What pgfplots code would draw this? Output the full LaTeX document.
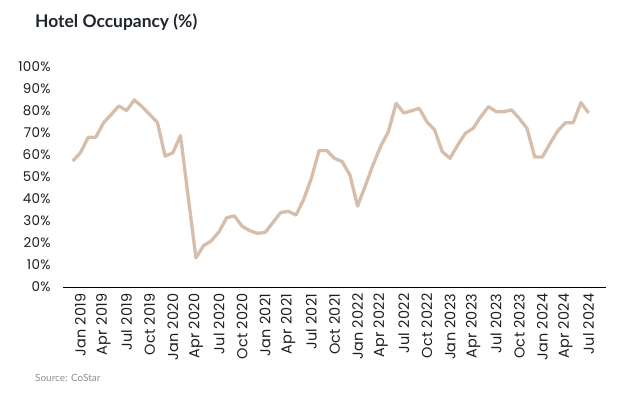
\documentclass[border=0pt]{standalone}
\usepackage{fontspec}
\setmainfont{Poppins}
\newfontfamily\titlefont{Lato}
\newfontfamily\tickfont{Poppins}[LetterSpace=2]
\usepackage{pgfplots}
\usepackage{pgfplotstable}
\pgfplotsset{compat=1.18}
\definecolor{linec}{RGB}{214,190,170}
\definecolor{txt}{RGB}{30,30,30}
\definecolor{ttl}{RGB}{31,35,45}
\definecolor{src}{RGB}{140,140,140}
\pgfplotstableread{
i  occ
0  57.2
1  61.0
2  68.0
3  68.1
4  74.6
5  78.4
6  82.3
7  80.2
8  85.0
9  82.0
10 78.4
11 74.8
12 59.5
13 61.0
14 68.8
15 41.0
16 13.3
17 18.8
18 21.0
19 25.1
20 31.5
21 32.3
22 27.6
23 25.6
24 24.4
25 24.8
26 29.3
27 33.8
28 34.4
29 32.7
30 39.8
31 49.5
32 62.0
33 62.0
34 58.5
35 57.0
36 50.9
37 36.8
38 46.0
39 55.5
40 64.0
41 70.6
42 83.5
43 79.1
44 80.1
45 81.2
46 75.1
47 71.4
48 61.5
49 58.5
50 64.5
51 69.9
52 72.1
53 77.4
54 82.0
55 79.7
56 79.7
57 80.5
58 76.6
59 72.1
60 59.1
61 59.1
62 65.3
63 71.0
64 74.7
65 74.7
66 83.8
67 79.1
}\occdata
\begin{document}
\begin{tikzpicture}
\path[use as bounding box] (0,0) rectangle (618bp,395bp);
\begin{axis}[
  at={(63bp,108bp)}, anchor=south west,
  scale only axis, width=543bp, height=220bp,
  xmin=-1.26, xmax=69.26, ymin=0, ymax=100,
  separate axis lines,
  axis x line*=bottom, axis y line*=left,
  x axis line style={draw=black, line width=0.8bp},
  y axis line style={draw=none},
  major tick length=0pt,
  ytick={0,10,...,100},
  yticklabels={0\%,10\%,20\%,30\%,40\%,50\%,60\%,70\%,80\%,90\%,100\%},
  xtick={1,4,...,67},
  xticklabels={Jan 2019,Apr 2019,Jul 2019,Oct 2019,Jan 2020,Apr 2020,Jul 2020,Oct 2020,Jan 2021,Apr 2021,Jul 2021,Oct 2021,Jan 2022,Apr 2022,Jul 2022,Oct 2022,Jan 2023,Apr 2023,Jul 2023,Oct 2023,Jan 2024,Apr 2024,Jul 2024},
  yticklabel style={font=\tickfont\fontsize{13.5}{15}\selectfont, text=txt},
  xticklabel style={font=\tickfont\fontsize{14.5}{16}\selectfont, text=txt, rotate=90, anchor=east},
  xticklabel shift=3bp,
  yticklabel shift=9bp,
]
\addplot[linec, line width=3.3bp, line join=round, no marks] table[x=i, y=occ] {\occdata};
\end{axis}
\node[anchor=west, inner sep=0pt, text=ttl, font=\titlefont\bfseries\fontsize{17.5}{20}\selectfont] at (35bp,373bp) {Hotel Occupancy (\%)};
\node[anchor=west, inner sep=0pt, text=src, font=\titlefont\fontsize{10}{12}\selectfont] at (35bp,17bp) {Source: CoStar};
\end{tikzpicture}
\end{document}
